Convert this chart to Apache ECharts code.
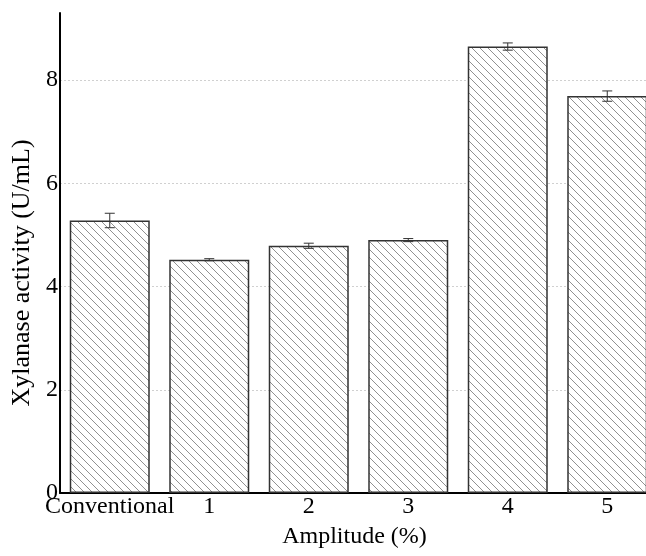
<!DOCTYPE html>
<html>
<head>
<meta charset="utf-8">
<script src="https://cdn.jsdelivr.net/npm/echarts@6/dist/echarts.min.js"></script>
<style>html,body{margin:0;padding:0;background:#fff;overflow:hidden}#c{width:660px;height:556px}</style>
</head>
<body>
<div id="c"></div>
<script>
const categories = ['Conventional', '1', '2', '3', '4', '5'];
const activity = [5.28, 4.52, 4.79, 4.90, 8.65, 7.69];
const errors = [0.14, 0.02, 0.05, 0.03, 0.07, 0.10];
const yTicks = [0, 2, 4, 6, 8];

const FONT = "'Liberation Serif', 'Times New Roman', serif";

// diagonal hatch pattern
const tile = document.createElement('canvas');
tile.width = 8; tile.height = 8;
const tc = tile.getContext('2d');
tc.fillStyle = '#fff'; tc.fillRect(0, 0, 8, 8);
tc.strokeStyle = '#858585'; tc.lineWidth = 0.9;
tc.beginPath();
tc.moveTo(-1, -1); tc.lineTo(9, 9);
tc.moveTo(-1, 7); tc.lineTo(1, 9);
tc.moveTo(7, -1); tc.lineTo(9, 1);
tc.stroke();

const chart = echarts.init(document.getElementById('c'), null, {renderer: 'canvas'});
chart.setOption({
  animation: false,
  backgroundColor: '#fff',
  grid: {left: 60, right: 3, top: 13, bottom: 63, containLabel: false},
  xAxis: {
    type: 'category',
    data: categories,
    name: 'Amplitude (%)',
    nameLocation: 'middle',
    nameGap: 32,
    nameTextStyle: {fontFamily: FONT, fontSize: 24, color: '#000', padding: [0, 8, 0, 0]},
    axisLine: {lineStyle: {color: '#000', width: 2}},
    axisTick: {show: false},
    axisLabel: {fontFamily: FONT, fontSize: 24, color: '#000', margin: 2, interval: 0}
  },
  yAxis: {
    type: 'value',
    min: 0, max: 9.3, interval: 2,
    name: 'Xylanase activity (U/mL)',
    nameLocation: 'middle',
    nameGap: 13,
    nameTextStyle: {fontFamily: FONT, fontSize: 26, color: '#000', padding: [0, 40, 0, 0]},
    axisLine: {show: true, lineStyle: {color: '#000', width: 2}},
    axisTick: {show: false},
    axisLabel: {
      fontFamily: FONT, fontSize: 24, color: '#000', margin: 2,
      showMaxLabel: false,
      formatter: v => yTicks.indexOf(v) >= 0 ? String(v) : ''
    },
    splitLine: {show: true, showMaxLine: false, showMinLine: false, lineStyle: {color: '#d0d0d0', type: [2, 2], width: 1}}
  },
  series: [
    {
      type: 'bar',
      data: activity,
      barWidth: 80,
      itemStyle: {
        color: {image: tile, repeat: 'repeat'},
        borderColor: '#333',
        borderWidth: 1.5
      },
      z: 2
    },
    {
      type: 'custom',
      data: activity.map((v, i) => [i, v, errors[i]]),
      z: 3,
      renderItem: function (params, api) {
        const x = api.value(0), v = api.value(1), e = api.value(2);
        const hi = api.coord([x, v + e]);
        const lo = api.coord([x, v - e]);
        const w = 5;
        const style = {stroke: '#333', lineWidth: 1};
        return {
          type: 'group',
          children: [
            {type: 'line', shape: {x1: hi[0], y1: hi[1], x2: lo[0], y2: lo[1]}, style},
            {type: 'line', shape: {x1: hi[0] - w, y1: hi[1], x2: hi[0] + w, y2: hi[1]}, style},
            {type: 'line', shape: {x1: lo[0] - w, y1: lo[1], x2: lo[0] + w, y2: lo[1]}, style}
          ]
        };
      }
    }
  ]
});
</script>
</body>
</html>
